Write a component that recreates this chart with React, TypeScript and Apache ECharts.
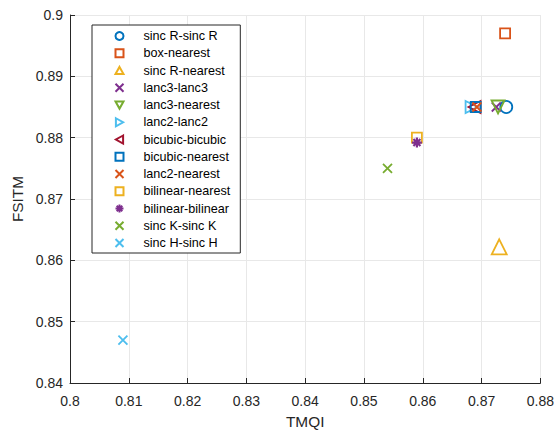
import React, { useEffect, useRef } from "react";
import * as echarts from "echarts";

const names = [
  "sinc R-sinc R",
  "box-nearest",
  "sinc R-nearest",
  "lanc3-lanc3",
  "lanc3-nearest",
  "lanc2-lanc2",
  "bicubic-bicubic",
  "bicubic-nearest",
  "lanc2-nearest",
  "bilinear-nearest",
  "bilinear-bilinear",
  "sinc K-sinc K",
  "sinc H-sinc H",
];
const tmqi = [0.8742, 0.874, 0.873, 0.8725, 0.8728, 0.8683, 0.8688, 0.869, 0.8692, 0.859, 0.859, 0.854, 0.809];
const fsitm = [0.885, 0.897, 0.8622, 0.885, 0.885, 0.885, 0.885, 0.885, 0.885, 0.88, 0.8792, 0.875, 0.847];
const colors = ["#0072BD", "#D95319", "#EDB120", "#7E2F8E", "#77AC30", "#4DBEEE", "#A2142F", "#0072BD", "#D95319", "#EDB120", "#7E2F8E", "#77AC30", "#4DBEEE"];
const markerKinds = ["circle", "square", "up", "x", "down", "right", "left", "square", "x", "square", "star", "x", "x"];

const xTicks = { min: 0.8, max: 0.88, step: 0.01 };
const yTicks = { min: 0.84, max: 0.9, step: 0.01 };

const symbolFor: Record<string, string> = {
  circle: "circle",
  square: "path://M0,0L10,0L10,10L0,10Z",
  up: "path://M5,0L10,9L0,9Z",
  down: "path://M0,0L10,0L5,9Z",
  right: "path://M0,0L9,5L0,10Z",
  left: "path://M9,0L0,5L9,10Z",
  x: "path://M0,0L10,10M10,0L0,10",
  star: "path://M5,0L5,10M0,5L10,5M1.5,1.5L8.5,8.5M8.5,1.5L1.5,8.5",
};
const sizeFor: Record<string, number> = {
  circle: 12,
  square: 10,
  up: 15,
  down: 13,
  right: 12,
  left: 12,
  x: 9,
  star: 10,
};

const FONT = "'Liberation Sans', Arial, Helvetica, sans-serif";
const fmt = (v: number) => parseFloat(v.toFixed(2)).toString();

export default function App() {
  const ref = useRef<HTMLDivElement>(null);
  useEffect(() => {
    if (!ref.current) return;
    const chart = echarts.init(ref.current, null, { renderer: "svg" });
    const series = names.map((n, i) => ({
      name: n,
      type: "scatter",
      data: [[tmqi[i], fsitm[i]]],
      symbol: symbolFor[markerKinds[i]],
      symbolSize: sizeFor[markerKinds[i]],
      itemStyle: {
        color: "none",
        borderColor: colors[i],
        borderWidth: markerKinds[i] === "star" ? 2.2 : 1.8,
        opacity: 1,
      },
      emphasis: { disabled: true },
    }));
    chart.setOption({
      animation: false,
      textStyle: { fontFamily: FONT },
      grid: { left: 70, right: 16, top: 15, bottom: 49 },
      xAxis: {
        type: "value",
        min: xTicks.min,
        max: xTicks.max,
        interval: xTicks.step,
        name: "TMQI",
        nameLocation: "middle",
        nameGap: 31,
        nameTextStyle: { fontSize: 15.4, color: "#262626", fontFamily: FONT },
        axisLine: { show: true, onZero: false, lineStyle: { color: "#262626", width: 1 } },
        axisTick: { show: true, inside: true, length: 5, lineStyle: { color: "#262626" } },
        axisLabel: { fontSize: 14, color: "#262626", margin: 11, formatter: fmt, fontFamily: FONT },
        splitLine: { show: true, lineStyle: { color: "#e8e8e8", width: 1 } },
      },
      yAxis: {
        type: "value",
        min: yTicks.min,
        max: yTicks.max,
        interval: yTicks.step,
        name: "FSITM",
        nameLocation: "middle",
        nameGap: 41,
        nameTextStyle: { fontSize: 15.4, color: "#262626", fontFamily: FONT },
        axisLine: { show: true, onZero: false, lineStyle: { color: "#262626", width: 1 } },
        axisTick: { show: true, inside: true, length: 5, lineStyle: { color: "#262626" } },
        axisLabel: { fontSize: 14, color: "#262626", margin: 7, formatter: fmt, fontFamily: FONT },
        splitLine: { show: true, lineStyle: { color: "#e8e8e8", width: 1 } },
      },
      legend: {
        orient: "vertical",
        left: 92,
        top: 25,
        padding: [4, 10, 3, 21],
        itemWidth: 8,
        itemHeight: 8,
        itemGap: 3.25,
        backgroundColor: "#ffffff",
        borderColor: "#262626",
        borderWidth: 1,
        textStyle: { fontSize: 12.6, color: "#000000", lineHeight: 14, padding: [0, 0, 0, 15], fontFamily: FONT },
        data: names,
        selectedMode: false,
      },
      series,
    });
    return () => chart.dispose();
  }, []);
  return <div ref={ref} style={{ width: 557, height: 434, position: "absolute", left: 0, top: 0, background: "#fff" }} />;
}
